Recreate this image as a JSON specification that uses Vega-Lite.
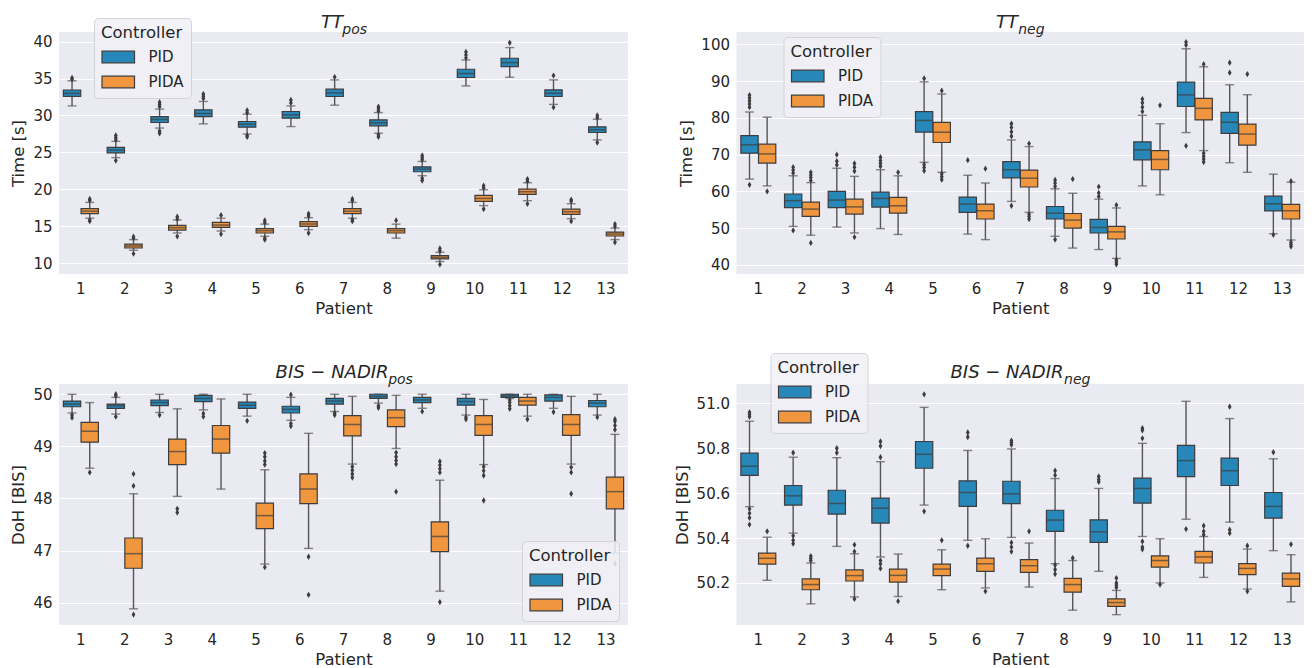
{
  "$schema": "https://vega.github.io/schema/vega-lite/v6.json",
  "background": "white",
  "padding": {"left": 10, "top": 14, "right": 5, "bottom": 2},
  "columns": 2,
  "spacing": {"row": 110, "column": 108.5},
  "bounds": "flush",
  "config": {
    "font": "DejaVu Sans",
    "view": {"fill": "#EAEAF2", "stroke": null},
    "axis": {"labelFont": "DejaVu Sans", "labelFontSize": 15, "labelColor": "#262626", "titleFont": "DejaVu Sans", "titleFontSize": 16.5, "titleFontWeight": "normal", "titleColor": "#262626", "ticks": false, "domain": false, "gridColor": "#FFFFFF", "gridWidth": 1.2},
    "axisX": {"grid": false, "labelAngle": 0, "labelPadding": 7.5, "titlePadding": 4},
    "axisY": {"labelPadding": 7, "titlePadding": 6},
    "legend": {"titleFont": "DejaVu Sans", "titleFontSize": 16.5, "titleFontWeight": "normal", "titleColor": "#262626", "labelFont": "DejaVu Sans", "labelFontSize": 15, "labelColor": "#262626", "symbolType": "M-1,-0.9H4V0.9H-1Z", "symbolSize": 169, "symbolStrokeColor": "#3d3d3d", "symbolStrokeWidth": 1.2, "labelOffset": 32.5, "padding": 7, "titlePadding": 8, "rowPadding": 8, "fillColor": "rgba(240,240,246,0.85)", "strokeColor": "#d3d3da", "cornerRadius": 4},
    "title": {"font": "DejaVu Sans", "fontSize": 18, "fontStyle": "italic", "fontWeight": "normal", "color": "#262626", "subtitleFont": "DejaVu Sans", "subtitleFontSize": 14, "subtitleFontStyle": "italic", "subtitleColor": "#262626", "subtitlePadding": -9, "anchor": "middle", "frame": "group"}
  },
  "resolve": {"scale": {"y": "independent", "x": "independent", "xOffset": "independent", "color": "independent"}, "legend": {"color": "independent"}},
  "datasets": {
    "boxes": [
      {"panel": "TT_pos", "Patient": 1, "Controller": "PID", "lo": 31.3, "q1": 32.6, "med": 33.0, "q3": 33.45, "hi": 34.7},
      {"panel": "TT_pos", "Patient": 1, "Controller": "PIDA", "lo": 16.1, "q1": 16.71, "med": 17.05, "q3": 17.39, "hi": 18.24},
      {"panel": "TT_pos", "Patient": 2, "Controller": "PID", "lo": 24.3, "q1": 24.95, "med": 25.32, "q3": 25.68, "hi": 26.5},
      {"panel": "TT_pos", "Patient": 2, "Controller": "PIDA", "lo": 11.76, "q1": 12.07, "med": 12.34, "q3": 12.6, "hi": 13.2},
      {"panel": "TT_pos", "Patient": 3, "Controller": "PID", "lo": 28.3, "q1": 29.05, "med": 29.46, "q3": 29.86, "hi": 30.86},
      {"panel": "TT_pos", "Patient": 3, "Controller": "PIDA", "lo": 14.1, "q1": 14.5, "med": 14.82, "q3": 15.14, "hi": 15.86},
      {"panel": "TT_pos", "Patient": 4, "Controller": "PID", "lo": 28.87, "q1": 29.86, "med": 30.27, "q3": 30.77, "hi": 31.9},
      {"panel": "TT_pos", "Patient": 4, "Controller": "PIDA", "lo": 14.37, "q1": 14.86, "med": 15.18, "q3": 15.54, "hi": 16.1},
      {"panel": "TT_pos", "Patient": 5, "Controller": "PID", "lo": 27.5, "q1": 28.42, "med": 28.83, "q3": 29.19, "hi": 30.18},
      {"panel": "TT_pos", "Patient": 5, "Controller": "PIDA", "lo": 13.65, "q1": 14.1, "med": 14.41, "q3": 14.68, "hi": 15.3},
      {"panel": "TT_pos", "Patient": 6, "Controller": "PID", "lo": 28.5, "q1": 29.64, "med": 30.09, "q3": 30.54, "hi": 31.3},
      {"panel": "TT_pos", "Patient": 6, "Controller": "PIDA", "lo": 14.55, "q1": 15.0, "med": 15.32, "q3": 15.63, "hi": 16.17},
      {"panel": "TT_pos", "Patient": 7, "Controller": "PID", "lo": 31.4, "q1": 32.57, "med": 33.06, "q3": 33.56, "hi": 34.82},
      {"panel": "TT_pos", "Patient": 7, "Controller": "PIDA", "lo": 16.1, "q1": 16.71, "med": 17.05, "q3": 17.39, "hi": 18.24},
      {"panel": "TT_pos", "Patient": 8, "Controller": "PID", "lo": 27.6, "q1": 28.6, "med": 29.0, "q3": 29.41, "hi": 30.4},
      {"panel": "TT_pos", "Patient": 8, "Controller": "PIDA", "lo": 13.4, "q1": 14.1, "med": 14.41, "q3": 14.68, "hi": 15.3},
      {"panel": "TT_pos", "Patient": 9, "Controller": "PID", "lo": 21.85, "q1": 22.39, "med": 22.75, "q3": 23.06, "hi": 23.78},
      {"panel": "TT_pos", "Patient": 9, "Controller": "PIDA", "lo": 10.23, "q1": 10.59, "med": 10.81, "q3": 11.04, "hi": 11.49},
      {"panel": "TT_pos", "Patient": 10, "Controller": "PID", "lo": 34.0, "q1": 35.14, "med": 35.68, "q3": 36.26, "hi": 37.52},
      {"panel": "TT_pos", "Patient": 10, "Controller": "PIDA", "lo": 17.8, "q1": 18.38, "med": 18.78, "q3": 19.19, "hi": 19.95},
      {"panel": "TT_pos", "Patient": 11, "Controller": "PID", "lo": 35.18, "q1": 36.62, "med": 37.16, "q3": 37.75, "hi": 39.19},
      {"panel": "TT_pos", "Patient": 11, "Controller": "PIDA", "lo": 18.47, "q1": 19.32, "med": 19.68, "q3": 20.04, "hi": 20.9},
      {"panel": "TT_pos", "Patient": 12, "Controller": "PID", "lo": 31.5, "q1": 32.57, "med": 33.0, "q3": 33.47, "hi": 34.82},
      {"panel": "TT_pos", "Patient": 12, "Controller": "PIDA", "lo": 16.04, "q1": 16.62, "med": 16.98, "q3": 17.34, "hi": 18.06},
      {"panel": "TT_pos", "Patient": 13, "Controller": "PID", "lo": 26.7, "q1": 27.7, "med": 28.06, "q3": 28.47, "hi": 29.5},
      {"panel": "TT_pos", "Patient": 13, "Controller": "PIDA", "lo": 13.2, "q1": 13.69, "med": 13.96, "q3": 14.23, "hi": 14.77},

      {"panel": "TT_neg", "Patient": 1, "Controller": "PID", "lo": 63.35, "q1": 70.4, "med": 72.67, "q3": 75.2, "hi": 81.6},
      {"panel": "TT_neg", "Patient": 1, "Controller": "PIDA", "lo": 61.5, "q1": 67.7, "med": 70.2, "q3": 72.85, "hi": 80.2},
      {"panel": "TT_neg", "Patient": 2, "Controller": "PID", "lo": 50.5, "q1": 55.6, "med": 57.5, "q3": 59.3, "hi": 64.25},
      {"panel": "TT_neg", "Patient": 2, "Controller": "PIDA", "lo": 48.1, "q1": 53.2, "med": 55.2, "q3": 57.1, "hi": 62.4},
      {"panel": "TT_neg", "Patient": 3, "Controller": "PID", "lo": 50.3, "q1": 55.6, "med": 57.65, "q3": 60.0, "hi": 66.3},
      {"panel": "TT_neg", "Patient": 3, "Controller": "PIDA", "lo": 48.7, "q1": 53.85, "med": 55.8, "q3": 57.9, "hi": 64.1},
      {"panel": "TT_neg", "Patient": 4, "Controller": "PID", "lo": 49.9, "q1": 55.75, "med": 58.1, "q3": 59.8, "hi": 65.9},
      {"panel": "TT_neg", "Patient": 4, "Controller": "PIDA", "lo": 48.3, "q1": 54.1, "med": 56.1, "q3": 58.4, "hi": 64.25},
      {"panel": "TT_neg", "Patient": 5, "Controller": "PID", "lo": 67.9, "q1": 76.1, "med": 79.3, "q3": 81.7, "hi": 89.8},
      {"panel": "TT_neg", "Patient": 5, "Controller": "PIDA", "lo": 65.2, "q1": 73.3, "med": 76.1, "q3": 78.8, "hi": 86.5},
      {"panel": "TT_neg", "Patient": 6, "Controller": "PID", "lo": 48.4, "q1": 54.3, "med": 56.56, "q3": 58.46, "hi": 64.4},
      {"panel": "TT_neg", "Patient": 6, "Controller": "PIDA", "lo": 46.9, "q1": 52.5, "med": 54.75, "q3": 56.56, "hi": 62.3},
      {"panel": "TT_neg", "Patient": 7, "Controller": "PID", "lo": 57.3, "q1": 63.7, "med": 65.9, "q3": 68.1, "hi": 74.0},
      {"panel": "TT_neg", "Patient": 7, "Controller": "PIDA", "lo": 54.3, "q1": 61.2, "med": 63.6, "q3": 65.8, "hi": 72.2},
      {"panel": "TT_neg", "Patient": 8, "Controller": "PID", "lo": 47.8, "q1": 52.5, "med": 54.1, "q3": 55.9, "hi": 60.7},
      {"panel": "TT_neg", "Patient": 8, "Controller": "PIDA", "lo": 44.6, "q1": 50.0, "med": 52.2, "q3": 54.0, "hi": 59.5},
      {"panel": "TT_neg", "Patient": 9, "Controller": "PID", "lo": 44.2, "q1": 48.7, "med": 50.2, "q3": 52.4, "hi": 57.9},
      {"panel": "TT_neg", "Patient": 9, "Controller": "PIDA", "lo": 41.8, "q1": 47.06, "med": 49.0, "q3": 50.5, "hi": 55.5},
      {"panel": "TT_neg", "Patient": 10, "Controller": "PID", "lo": 61.5, "q1": 68.6, "med": 71.3, "q3": 73.5, "hi": 80.7},
      {"panel": "TT_neg", "Patient": 10, "Controller": "PIDA", "lo": 59.1, "q1": 65.9, "med": 68.7, "q3": 71.1, "hi": 78.4},
      {"panel": "TT_neg", "Patient": 11, "Controller": "PID", "lo": 76.0, "q1": 83.1, "med": 86.25, "q3": 89.7, "hi": 98.8},
      {"panel": "TT_neg", "Patient": 11, "Controller": "PIDA", "lo": 71.1, "q1": 79.45, "med": 82.6, "q3": 85.3, "hi": 93.9},
      {"panel": "TT_neg", "Patient": 12, "Controller": "PID", "lo": 67.8, "q1": 75.8, "med": 78.8, "q3": 81.5, "hi": 89.0},
      {"panel": "TT_neg", "Patient": 12, "Controller": "PIDA", "lo": 65.2, "q1": 72.6, "med": 75.6, "q3": 78.3, "hi": 86.3},
      {"panel": "TT_neg", "Patient": 13, "Controller": "PID", "lo": 48.5, "q1": 54.7, "med": 56.65, "q3": 58.7, "hi": 64.7},
      {"panel": "TT_neg", "Patient": 13, "Controller": "PIDA", "lo": 46.8, "q1": 52.5, "med": 54.75, "q3": 56.5, "hi": 62.5},

      {"panel": "BIS_pos", "Patient": 1, "Controller": "PID", "lo": 49.64, "q1": 49.76, "med": 49.81, "q3": 49.87, "hi": 50.0},
      {"panel": "BIS_pos", "Patient": 1, "Controller": "PIDA", "lo": 48.58, "q1": 49.08, "med": 49.29, "q3": 49.46, "hi": 49.84},
      {"panel": "BIS_pos", "Patient": 2, "Controller": "PID", "lo": 49.62, "q1": 49.73, "med": 49.78, "q3": 49.81, "hi": 49.94},
      {"panel": "BIS_pos", "Patient": 2, "Controller": "PIDA", "lo": 45.88, "q1": 46.66, "med": 46.94, "q3": 47.24, "hi": 48.09},
      {"panel": "BIS_pos", "Patient": 3, "Controller": "PID", "lo": 49.65, "q1": 49.78, "med": 49.84, "q3": 49.89, "hi": 50.0},
      {"panel": "BIS_pos", "Patient": 3, "Controller": "PIDA", "lo": 48.04, "q1": 48.65, "med": 48.9, "q3": 49.14, "hi": 49.72},
      {"panel": "BIS_pos", "Patient": 4, "Controller": "PID", "lo": 49.7, "q1": 49.86, "med": 49.92, "q3": 49.98, "hi": 50.0},
      {"panel": "BIS_pos", "Patient": 4, "Controller": "PIDA", "lo": 48.18, "q1": 48.87, "med": 49.14, "q3": 49.4, "hi": 49.91},
      {"panel": "BIS_pos", "Patient": 5, "Controller": "PID", "lo": 49.58, "q1": 49.73, "med": 49.79, "q3": 49.85, "hi": 50.0},
      {"panel": "BIS_pos", "Patient": 5, "Controller": "PIDA", "lo": 46.74, "q1": 47.42, "med": 47.67, "q3": 47.91, "hi": 48.55},
      {"panel": "BIS_pos", "Patient": 6, "Controller": "PID", "lo": 49.5, "q1": 49.64, "med": 49.71, "q3": 49.77, "hi": 49.94},
      {"panel": "BIS_pos", "Patient": 6, "Controller": "PIDA", "lo": 47.04, "q1": 47.9, "med": 48.18, "q3": 48.47, "hi": 49.25},
      {"panel": "BIS_pos", "Patient": 7, "Controller": "PID", "lo": 49.67, "q1": 49.81, "med": 49.87, "q3": 49.92, "hi": 50.0},
      {"panel": "BIS_pos", "Patient": 7, "Controller": "PIDA", "lo": 48.66, "q1": 49.2, "med": 49.42, "q3": 49.59, "hi": 49.96},
      {"panel": "BIS_pos", "Patient": 8, "Controller": "PID", "lo": 49.83, "q1": 49.92, "med": 49.96, "q3": 50.0, "hi": 50.0},
      {"panel": "BIS_pos", "Patient": 8, "Controller": "PIDA", "lo": 48.96, "q1": 49.38, "med": 49.55, "q3": 49.7, "hi": 49.98},
      {"panel": "BIS_pos", "Patient": 9, "Controller": "PID", "lo": 49.73, "q1": 49.84, "med": 49.89, "q3": 49.94, "hi": 50.0},
      {"panel": "BIS_pos", "Patient": 9, "Controller": "PIDA", "lo": 46.22, "q1": 46.98, "med": 47.27, "q3": 47.55, "hi": 48.35},
      {"panel": "BIS_pos", "Patient": 10, "Controller": "PID", "lo": 49.6, "q1": 49.79, "med": 49.86, "q3": 49.92, "hi": 50.0},
      {"panel": "BIS_pos", "Patient": 10, "Controller": "PIDA", "lo": 48.65, "q1": 49.21, "med": 49.42, "q3": 49.59, "hi": 49.9},
      {"panel": "BIS_pos", "Patient": 11, "Controller": "PID", "lo": 49.92, "q1": 49.94, "med": 49.97, "q3": 50.0, "hi": 50.0},
      {"panel": "BIS_pos", "Patient": 11, "Controller": "PIDA", "lo": 49.58, "q1": 49.79, "med": 49.87, "q3": 49.94, "hi": 50.0},
      {"panel": "BIS_pos", "Patient": 12, "Controller": "PID", "lo": 49.73, "q1": 49.87, "med": 49.94, "q3": 49.99, "hi": 50.0},
      {"panel": "BIS_pos", "Patient": 12, "Controller": "PIDA", "lo": 48.66, "q1": 49.21, "med": 49.42, "q3": 49.61, "hi": 49.96},
      {"panel": "BIS_pos", "Patient": 13, "Controller": "PID", "lo": 49.6, "q1": 49.76, "med": 49.83, "q3": 49.88, "hi": 50.0},
      {"panel": "BIS_pos", "Patient": 13, "Controller": "PIDA", "lo": 46.95, "q1": 47.8, "med": 48.13, "q3": 48.41, "hi": 49.23},

      {"panel": "BIS_neg", "Patient": 1, "Controller": "PID", "lo": 50.54, "q1": 50.679, "med": 50.72, "q3": 50.778, "hi": 50.92},
      {"panel": "BIS_neg", "Patient": 1, "Controller": "PIDA", "lo": 50.212, "q1": 50.284, "med": 50.31, "q3": 50.333, "hi": 50.404},
      {"panel": "BIS_neg", "Patient": 2, "Controller": "PID", "lo": 50.422, "q1": 50.547, "med": 50.588, "q3": 50.634, "hi": 50.76},
      {"panel": "BIS_neg", "Patient": 2, "Controller": "PIDA", "lo": 50.107, "q1": 50.17, "med": 50.193, "q3": 50.218, "hi": 50.289},
      {"panel": "BIS_neg", "Patient": 3, "Controller": "PID", "lo": 50.363, "q1": 50.507, "med": 50.554, "q3": 50.613, "hi": 50.758},
      {"panel": "BIS_neg", "Patient": 3, "Controller": "PIDA", "lo": 50.138, "q1": 50.209, "med": 50.233, "q3": 50.258, "hi": 50.33},
      {"panel": "BIS_neg", "Patient": 4, "Controller": "PID", "lo": 50.316, "q1": 50.467, "med": 50.533, "q3": 50.578, "hi": 50.74},
      {"panel": "BIS_neg", "Patient": 4, "Controller": "PIDA", "lo": 50.14, "q1": 50.204, "med": 50.234, "q3": 50.262, "hi": 50.329},
      {"panel": "BIS_neg", "Patient": 5, "Controller": "PID", "lo": 50.547, "q1": 50.711, "med": 50.773, "q3": 50.83, "hi": 50.982},
      {"panel": "BIS_neg", "Patient": 5, "Controller": "PIDA", "lo": 50.17, "q1": 50.233, "med": 50.262, "q3": 50.284, "hi": 50.348},
      {"panel": "BIS_neg", "Patient": 6, "Controller": "PID", "lo": 50.39, "q1": 50.541, "med": 50.603, "q3": 50.655, "hi": 50.79},
      {"panel": "BIS_neg", "Patient": 6, "Controller": "PIDA", "lo": 50.178, "q1": 50.252, "med": 50.286, "q3": 50.311, "hi": 50.397},
      {"panel": "BIS_neg", "Patient": 7, "Controller": "PID", "lo": 50.403, "q1": 50.553, "med": 50.597, "q3": 50.653, "hi": 50.797},
      {"panel": "BIS_neg", "Patient": 7, "Controller": "PIDA", "lo": 50.182, "q1": 50.247, "med": 50.277, "q3": 50.304, "hi": 50.378},
      {"panel": "BIS_neg", "Patient": 8, "Controller": "PID", "lo": 50.286, "q1": 50.43, "med": 50.48, "q3": 50.524, "hi": 50.665},
      {"panel": "BIS_neg", "Patient": 8, "Controller": "PIDA", "lo": 50.079, "q1": 50.159, "med": 50.193, "q3": 50.221, "hi": 50.3},
      {"panel": "BIS_neg", "Patient": 9, "Controller": "PID", "lo": 50.252, "q1": 50.381, "med": 50.428, "q3": 50.481, "hi": 50.621},
      {"panel": "BIS_neg", "Patient": 9, "Controller": "PIDA", "lo": 50.059, "q1": 50.096, "med": 50.113, "q3": 50.129, "hi": 50.167},
      {"panel": "BIS_neg", "Patient": 10, "Controller": "PID", "lo": 50.407, "q1": 50.556, "med": 50.621, "q3": 50.667, "hi": 50.822},
      {"panel": "BIS_neg", "Patient": 10, "Controller": "PIDA", "lo": 50.2, "q1": 50.271, "med": 50.3, "q3": 50.321, "hi": 50.397},
      {"panel": "BIS_neg", "Patient": 11, "Controller": "PID", "lo": 50.484, "q1": 50.674, "med": 50.745, "q3": 50.813, "hi": 51.009},
      {"panel": "BIS_neg", "Patient": 11, "Controller": "PIDA", "lo": 50.225, "q1": 50.289, "med": 50.316, "q3": 50.341, "hi": 50.407},
      {"panel": "BIS_neg", "Patient": 12, "Controller": "PID", "lo": 50.471, "q1": 50.634, "med": 50.7, "q3": 50.756, "hi": 50.932},
      {"panel": "BIS_neg", "Patient": 12, "Controller": "PIDA", "lo": 50.173, "q1": 50.237, "med": 50.265, "q3": 50.286, "hi": 50.351},
      {"panel": "BIS_neg", "Patient": 13, "Controller": "PID", "lo": 50.344, "q1": 50.489, "med": 50.541, "q3": 50.603, "hi": 50.753},
      {"panel": "BIS_neg", "Patient": 13, "Controller": "PIDA", "lo": 50.116, "q1": 50.185, "med": 50.218, "q3": 50.244, "hi": 50.326}
    ],
    "outliers": [
      {"panel": "TT_pos", "Patient": 1, "Controller": "PID", "value": 34.9}, {"panel": "TT_pos", "Patient": 1, "Controller": "PID", "value": 35.1},
      {"panel": "TT_pos", "Patient": 1, "Controller": "PIDA", "value": 18.5}, {"panel": "TT_pos", "Patient": 1, "Controller": "PIDA", "value": 18.7}, {"panel": "TT_pos", "Patient": 1, "Controller": "PIDA", "value": 15.7}, {"panel": "TT_pos", "Patient": 1, "Controller": "PIDA", "value": 15.85},
      {"panel": "TT_pos", "Patient": 2, "Controller": "PID", "value": 26.7}, {"panel": "TT_pos", "Patient": 2, "Controller": "PID", "value": 27.0}, {"panel": "TT_pos", "Patient": 2, "Controller": "PID", "value": 27.3}, {"panel": "TT_pos", "Patient": 2, "Controller": "PID", "value": 23.9},
      {"panel": "TT_pos", "Patient": 2, "Controller": "PIDA", "value": 13.4}, {"panel": "TT_pos", "Patient": 2, "Controller": "PIDA", "value": 13.6}, {"panel": "TT_pos", "Patient": 2, "Controller": "PIDA", "value": 11.3},
      {"panel": "TT_pos", "Patient": 3, "Controller": "PID", "value": 31.2}, {"panel": "TT_pos", "Patient": 3, "Controller": "PID", "value": 31.5}, {"panel": "TT_pos", "Patient": 3, "Controller": "PID", "value": 31.8}, {"panel": "TT_pos", "Patient": 3, "Controller": "PID", "value": 27.6}, {"panel": "TT_pos", "Patient": 3, "Controller": "PID", "value": 27.9},
      {"panel": "TT_pos", "Patient": 3, "Controller": "PIDA", "value": 16.0}, {"panel": "TT_pos", "Patient": 3, "Controller": "PIDA", "value": 16.3}, {"panel": "TT_pos", "Patient": 3, "Controller": "PIDA", "value": 13.65},
      {"panel": "TT_pos", "Patient": 4, "Controller": "PID", "value": 32.3}, {"panel": "TT_pos", "Patient": 4, "Controller": "PID", "value": 32.6}, {"panel": "TT_pos", "Patient": 4, "Controller": "PID", "value": 32.9},
      {"panel": "TT_pos", "Patient": 4, "Controller": "PIDA", "value": 16.5}, {"panel": "TT_pos", "Patient": 4, "Controller": "PIDA", "value": 13.95},
      {"panel": "TT_pos", "Patient": 5, "Controller": "PID", "value": 30.4}, {"panel": "TT_pos", "Patient": 5, "Controller": "PID", "value": 30.7}, {"panel": "TT_pos", "Patient": 5, "Controller": "PID", "value": 27.1}, {"panel": "TT_pos", "Patient": 5, "Controller": "PID", "value": 27.3},
      {"panel": "TT_pos", "Patient": 5, "Controller": "PIDA", "value": 15.5}, {"panel": "TT_pos", "Patient": 5, "Controller": "PIDA", "value": 15.8}, {"panel": "TT_pos", "Patient": 5, "Controller": "PIDA", "value": 13.2}, {"panel": "TT_pos", "Patient": 5, "Controller": "PIDA", "value": 13.4},
      {"panel": "TT_pos", "Patient": 6, "Controller": "PID", "value": 31.7}, {"panel": "TT_pos", "Patient": 6, "Controller": "PID", "value": 32.1},
      {"panel": "TT_pos", "Patient": 6, "Controller": "PIDA", "value": 16.4}, {"panel": "TT_pos", "Patient": 6, "Controller": "PIDA", "value": 16.7}, {"panel": "TT_pos", "Patient": 6, "Controller": "PIDA", "value": 14.1},
      {"panel": "TT_pos", "Patient": 7, "Controller": "PID", "value": 35.2},
      {"panel": "TT_pos", "Patient": 7, "Controller": "PIDA", "value": 18.5}, {"panel": "TT_pos", "Patient": 7, "Controller": "PIDA", "value": 18.7}, {"panel": "TT_pos", "Patient": 7, "Controller": "PIDA", "value": 15.7}, {"panel": "TT_pos", "Patient": 7, "Controller": "PIDA", "value": 15.9},
      {"panel": "TT_pos", "Patient": 8, "Controller": "PID", "value": 30.6}, {"panel": "TT_pos", "Patient": 8, "Controller": "PID", "value": 30.9}, {"panel": "TT_pos", "Patient": 8, "Controller": "PID", "value": 31.2}, {"panel": "TT_pos", "Patient": 8, "Controller": "PID", "value": 27.1}, {"panel": "TT_pos", "Patient": 8, "Controller": "PID", "value": 27.4},
      {"panel": "TT_pos", "Patient": 8, "Controller": "PIDA", "value": 15.8},
      {"panel": "TT_pos", "Patient": 9, "Controller": "PID", "value": 24.0}, {"panel": "TT_pos", "Patient": 9, "Controller": "PID", "value": 24.3}, {"panel": "TT_pos", "Patient": 9, "Controller": "PID", "value": 24.6}, {"panel": "TT_pos", "Patient": 9, "Controller": "PID", "value": 21.2}, {"panel": "TT_pos", "Patient": 9, "Controller": "PID", "value": 21.5},
      {"panel": "TT_pos", "Patient": 9, "Controller": "PIDA", "value": 11.7}, {"panel": "TT_pos", "Patient": 9, "Controller": "PIDA", "value": 12.0}, {"panel": "TT_pos", "Patient": 9, "Controller": "PIDA", "value": 9.85},
      {"panel": "TT_pos", "Patient": 10, "Controller": "PID", "value": 37.8}, {"panel": "TT_pos", "Patient": 10, "Controller": "PID", "value": 38.2}, {"panel": "TT_pos", "Patient": 10, "Controller": "PID", "value": 38.6},
      {"panel": "TT_pos", "Patient": 10, "Controller": "PIDA", "value": 20.2}, {"panel": "TT_pos", "Patient": 10, "Controller": "PIDA", "value": 20.5}, {"panel": "TT_pos", "Patient": 10, "Controller": "PIDA", "value": 17.35},
      {"panel": "TT_pos", "Patient": 11, "Controller": "PID", "value": 39.85},
      {"panel": "TT_pos", "Patient": 11, "Controller": "PIDA", "value": 21.1}, {"panel": "TT_pos", "Patient": 11, "Controller": "PIDA", "value": 21.4}, {"panel": "TT_pos", "Patient": 11, "Controller": "PIDA", "value": 18.05},
      {"panel": "TT_pos", "Patient": 12, "Controller": "PID", "value": 35.4}, {"panel": "TT_pos", "Patient": 12, "Controller": "PID", "value": 31.1},
      {"panel": "TT_pos", "Patient": 12, "Controller": "PIDA", "value": 18.4}, {"panel": "TT_pos", "Patient": 12, "Controller": "PIDA", "value": 18.6}, {"panel": "TT_pos", "Patient": 12, "Controller": "PIDA", "value": 15.7},
      {"panel": "TT_pos", "Patient": 13, "Controller": "PID", "value": 29.7}, {"panel": "TT_pos", "Patient": 13, "Controller": "PID", "value": 30.0}, {"panel": "TT_pos", "Patient": 13, "Controller": "PID", "value": 26.35},
      {"panel": "TT_pos", "Patient": 13, "Controller": "PIDA", "value": 15.0}, {"panel": "TT_pos", "Patient": 13, "Controller": "PIDA", "value": 15.3}, {"panel": "TT_pos", "Patient": 13, "Controller": "PIDA", "value": 12.85},

      {"panel": "TT_neg", "Patient": 1, "Controller": "PID", "value": 82.9}, {"panel": "TT_neg", "Patient": 1, "Controller": "PID", "value": 83.8}, {"panel": "TT_neg", "Patient": 1, "Controller": "PID", "value": 84.6}, {"panel": "TT_neg", "Patient": 1, "Controller": "PID", "value": 85.4}, {"panel": "TT_neg", "Patient": 1, "Controller": "PID", "value": 86.2}, {"panel": "TT_neg", "Patient": 1, "Controller": "PID", "value": 61.8},
      {"panel": "TT_neg", "Patient": 1, "Controller": "PIDA", "value": 60.0},
      {"panel": "TT_neg", "Patient": 2, "Controller": "PID", "value": 65.0}, {"panel": "TT_neg", "Patient": 2, "Controller": "PID", "value": 65.8}, {"panel": "TT_neg", "Patient": 2, "Controller": "PID", "value": 66.6}, {"panel": "TT_neg", "Patient": 2, "Controller": "PID", "value": 49.4},
      {"panel": "TT_neg", "Patient": 2, "Controller": "PIDA", "value": 63.0}, {"panel": "TT_neg", "Patient": 2, "Controller": "PIDA", "value": 63.8}, {"panel": "TT_neg", "Patient": 2, "Controller": "PIDA", "value": 64.5}, {"panel": "TT_neg", "Patient": 2, "Controller": "PIDA", "value": 65.2}, {"panel": "TT_neg", "Patient": 2, "Controller": "PIDA", "value": 46.0},
      {"panel": "TT_neg", "Patient": 3, "Controller": "PID", "value": 67.2}, {"panel": "TT_neg", "Patient": 3, "Controller": "PID", "value": 68.2}, {"panel": "TT_neg", "Patient": 3, "Controller": "PID", "value": 70.0},
      {"panel": "TT_neg", "Patient": 3, "Controller": "PIDA", "value": 65.5}, {"panel": "TT_neg", "Patient": 3, "Controller": "PIDA", "value": 66.6}, {"panel": "TT_neg", "Patient": 3, "Controller": "PIDA", "value": 67.6}, {"panel": "TT_neg", "Patient": 3, "Controller": "PIDA", "value": 47.6},
      {"panel": "TT_neg", "Patient": 4, "Controller": "PID", "value": 66.8}, {"panel": "TT_neg", "Patient": 4, "Controller": "PID", "value": 67.6}, {"panel": "TT_neg", "Patient": 4, "Controller": "PID", "value": 68.4}, {"panel": "TT_neg", "Patient": 4, "Controller": "PID", "value": 69.3},
      {"panel": "TT_neg", "Patient": 4, "Controller": "PIDA", "value": 65.2},
      {"panel": "TT_neg", "Patient": 5, "Controller": "PID", "value": 90.7}, {"panel": "TT_neg", "Patient": 5, "Controller": "PID", "value": 65.6}, {"panel": "TT_neg", "Patient": 5, "Controller": "PID", "value": 66.5}, {"panel": "TT_neg", "Patient": 5, "Controller": "PID", "value": 67.3},
      {"panel": "TT_neg", "Patient": 5, "Controller": "PIDA", "value": 87.4}, {"panel": "TT_neg", "Patient": 5, "Controller": "PIDA", "value": 63.2}, {"panel": "TT_neg", "Patient": 5, "Controller": "PIDA", "value": 64.0}, {"panel": "TT_neg", "Patient": 5, "Controller": "PIDA", "value": 64.8},
      {"panel": "TT_neg", "Patient": 6, "Controller": "PID", "value": 68.5},
      {"panel": "TT_neg", "Patient": 6, "Controller": "PIDA", "value": 66.2},
      {"panel": "TT_neg", "Patient": 7, "Controller": "PID", "value": 75.0}, {"panel": "TT_neg", "Patient": 7, "Controller": "PID", "value": 76.2}, {"panel": "TT_neg", "Patient": 7, "Controller": "PID", "value": 77.4}, {"panel": "TT_neg", "Patient": 7, "Controller": "PID", "value": 78.4}, {"panel": "TT_neg", "Patient": 7, "Controller": "PID", "value": 56.1},
      {"panel": "TT_neg", "Patient": 7, "Controller": "PIDA", "value": 73.0}, {"panel": "TT_neg", "Patient": 7, "Controller": "PIDA", "value": 52.5}, {"panel": "TT_neg", "Patient": 7, "Controller": "PIDA", "value": 53.2}, {"panel": "TT_neg", "Patient": 7, "Controller": "PIDA", "value": 53.8},
      {"panel": "TT_neg", "Patient": 8, "Controller": "PID", "value": 61.4}, {"panel": "TT_neg", "Patient": 8, "Controller": "PID", "value": 62.3}, {"panel": "TT_neg", "Patient": 8, "Controller": "PID", "value": 63.1}, {"panel": "TT_neg", "Patient": 8, "Controller": "PID", "value": 46.9},
      {"panel": "TT_neg", "Patient": 8, "Controller": "PIDA", "value": 63.35},
      {"panel": "TT_neg", "Patient": 9, "Controller": "PID", "value": 58.6}, {"panel": "TT_neg", "Patient": 9, "Controller": "PID", "value": 59.6}, {"panel": "TT_neg", "Patient": 9, "Controller": "PID", "value": 61.3},
      {"panel": "TT_neg", "Patient": 9, "Controller": "PIDA", "value": 56.3}, {"panel": "TT_neg", "Patient": 9, "Controller": "PIDA", "value": 40.2}, {"panel": "TT_neg", "Patient": 9, "Controller": "PIDA", "value": 40.8}, {"panel": "TT_neg", "Patient": 9, "Controller": "PIDA", "value": 41.4},
      {"panel": "TT_neg", "Patient": 10, "Controller": "PID", "value": 81.7}, {"panel": "TT_neg", "Patient": 10, "Controller": "PID", "value": 82.9}, {"panel": "TT_neg", "Patient": 10, "Controller": "PID", "value": 84.1}, {"panel": "TT_neg", "Patient": 10, "Controller": "PID", "value": 85.1},
      {"panel": "TT_neg", "Patient": 10, "Controller": "PIDA", "value": 83.4},
      {"panel": "TT_neg", "Patient": 11, "Controller": "PID", "value": 99.8}, {"panel": "TT_neg", "Patient": 11, "Controller": "PID", "value": 100.6}, {"panel": "TT_neg", "Patient": 11, "Controller": "PID", "value": 72.4},
      {"panel": "TT_neg", "Patient": 11, "Controller": "PIDA", "value": 94.6}, {"panel": "TT_neg", "Patient": 11, "Controller": "PIDA", "value": 68.0}, {"panel": "TT_neg", "Patient": 11, "Controller": "PIDA", "value": 68.8}, {"panel": "TT_neg", "Patient": 11, "Controller": "PIDA", "value": 69.6}, {"panel": "TT_neg", "Patient": 11, "Controller": "PIDA", "value": 70.4},
      {"panel": "TT_neg", "Patient": 12, "Controller": "PID", "value": 92.3}, {"panel": "TT_neg", "Patient": 12, "Controller": "PID", "value": 95.0},
      {"panel": "TT_neg", "Patient": 12, "Controller": "PIDA", "value": 91.9},
      {"panel": "TT_neg", "Patient": 13, "Controller": "PID", "value": 48.2},
      {"panel": "TT_neg", "Patient": 13, "Controller": "PIDA", "value": 62.8}, {"panel": "TT_neg", "Patient": 13, "Controller": "PIDA", "value": 45.0}, {"panel": "TT_neg", "Patient": 13, "Controller": "PIDA", "value": 45.6}, {"panel": "TT_neg", "Patient": 13, "Controller": "PIDA", "value": 46.2},

      {"panel": "BIS_pos", "Patient": 1, "Controller": "PID", "value": 49.55}, {"panel": "BIS_pos", "Patient": 1, "Controller": "PID", "value": 49.6},
      {"panel": "BIS_pos", "Patient": 1, "Controller": "PIDA", "value": 48.5},
      {"panel": "BIS_pos", "Patient": 2, "Controller": "PID", "value": 49.97}, {"panel": "BIS_pos", "Patient": 2, "Controller": "PID", "value": 50.0}, {"panel": "BIS_pos", "Patient": 2, "Controller": "PID", "value": 49.57},
      {"panel": "BIS_pos", "Patient": 2, "Controller": "PIDA", "value": 48.24}, {"panel": "BIS_pos", "Patient": 2, "Controller": "PIDA", "value": 48.47}, {"panel": "BIS_pos", "Patient": 2, "Controller": "PIDA", "value": 45.77},
      {"panel": "BIS_pos", "Patient": 3, "Controller": "PID", "value": 49.6},
      {"panel": "BIS_pos", "Patient": 3, "Controller": "PIDA", "value": 47.73}, {"panel": "BIS_pos", "Patient": 3, "Controller": "PIDA", "value": 47.8},
      {"panel": "BIS_pos", "Patient": 4, "Controller": "PID", "value": 49.57}, {"panel": "BIS_pos", "Patient": 4, "Controller": "PID", "value": 49.63},
      {"panel": "BIS_pos", "Patient": 5, "Controller": "PID", "value": 49.49},
      {"panel": "BIS_pos", "Patient": 5, "Controller": "PIDA", "value": 48.65}, {"panel": "BIS_pos", "Patient": 5, "Controller": "PIDA", "value": 48.72}, {"panel": "BIS_pos", "Patient": 5, "Controller": "PIDA", "value": 48.8}, {"panel": "BIS_pos", "Patient": 5, "Controller": "PIDA", "value": 48.87}, {"panel": "BIS_pos", "Patient": 5, "Controller": "PIDA", "value": 46.68},
      {"panel": "BIS_pos", "Patient": 6, "Controller": "PID", "value": 49.99}, {"panel": "BIS_pos", "Patient": 6, "Controller": "PID", "value": 49.39}, {"panel": "BIS_pos", "Patient": 6, "Controller": "PID", "value": 49.44},
      {"panel": "BIS_pos", "Patient": 6, "Controller": "PIDA", "value": 46.88}, {"panel": "BIS_pos", "Patient": 6, "Controller": "PIDA", "value": 46.15},
      {"panel": "BIS_pos", "Patient": 7, "Controller": "PID", "value": 49.6}, {"panel": "BIS_pos", "Patient": 7, "Controller": "PID", "value": 49.64},
      {"panel": "BIS_pos", "Patient": 7, "Controller": "PIDA", "value": 48.4}, {"panel": "BIS_pos", "Patient": 7, "Controller": "PIDA", "value": 48.47}, {"panel": "BIS_pos", "Patient": 7, "Controller": "PIDA", "value": 48.54}, {"panel": "BIS_pos", "Patient": 7, "Controller": "PIDA", "value": 48.61},
      {"panel": "BIS_pos", "Patient": 8, "Controller": "PID", "value": 49.74}, {"panel": "BIS_pos", "Patient": 8, "Controller": "PID", "value": 49.78},
      {"panel": "BIS_pos", "Patient": 8, "Controller": "PIDA", "value": 48.66}, {"panel": "BIS_pos", "Patient": 8, "Controller": "PIDA", "value": 48.73}, {"panel": "BIS_pos", "Patient": 8, "Controller": "PIDA", "value": 48.8}, {"panel": "BIS_pos", "Patient": 8, "Controller": "PIDA", "value": 48.88}, {"panel": "BIS_pos", "Patient": 8, "Controller": "PIDA", "value": 48.13},
      {"panel": "BIS_pos", "Patient": 9, "Controller": "PID", "value": 49.67},
      {"panel": "BIS_pos", "Patient": 9, "Controller": "PIDA", "value": 48.5}, {"panel": "BIS_pos", "Patient": 9, "Controller": "PIDA", "value": 48.57}, {"panel": "BIS_pos", "Patient": 9, "Controller": "PIDA", "value": 48.64}, {"panel": "BIS_pos", "Patient": 9, "Controller": "PIDA", "value": 48.71}, {"panel": "BIS_pos", "Patient": 9, "Controller": "PIDA", "value": 46.01},
      {"panel": "BIS_pos", "Patient": 10, "Controller": "PID", "value": 49.52}, {"panel": "BIS_pos", "Patient": 10, "Controller": "PID", "value": 49.56},
      {"panel": "BIS_pos", "Patient": 10, "Controller": "PIDA", "value": 48.44}, {"panel": "BIS_pos", "Patient": 10, "Controller": "PIDA", "value": 48.53}, {"panel": "BIS_pos", "Patient": 10, "Controller": "PIDA", "value": 48.61}, {"panel": "BIS_pos", "Patient": 10, "Controller": "PIDA", "value": 47.96},
      {"panel": "BIS_pos", "Patient": 11, "Controller": "PID", "value": 49.72}, {"panel": "BIS_pos", "Patient": 11, "Controller": "PID", "value": 49.78}, {"panel": "BIS_pos", "Patient": 11, "Controller": "PID", "value": 49.84}, {"panel": "BIS_pos", "Patient": 11, "Controller": "PID", "value": 49.89},
      {"panel": "BIS_pos", "Patient": 11, "Controller": "PIDA", "value": 49.52},
      {"panel": "BIS_pos", "Patient": 12, "Controller": "PID", "value": 49.66},
      {"panel": "BIS_pos", "Patient": 12, "Controller": "PIDA", "value": 48.5}, {"panel": "BIS_pos", "Patient": 12, "Controller": "PIDA", "value": 48.6}, {"panel": "BIS_pos", "Patient": 12, "Controller": "PIDA", "value": 48.09},
      {"panel": "BIS_pos", "Patient": 13, "Controller": "PID", "value": 49.56},
      {"panel": "BIS_pos", "Patient": 13, "Controller": "PIDA", "value": 49.32}, {"panel": "BIS_pos", "Patient": 13, "Controller": "PIDA", "value": 49.4}, {"panel": "BIS_pos", "Patient": 13, "Controller": "PIDA", "value": 49.48}, {"panel": "BIS_pos", "Patient": 13, "Controller": "PIDA", "value": 49.52}, {"panel": "BIS_pos", "Patient": 13, "Controller": "PIDA", "value": 46.75},

      {"panel": "BIS_neg", "Patient": 1, "Controller": "PID", "value": 50.94}, {"panel": "BIS_neg", "Patient": 1, "Controller": "PID", "value": 50.95}, {"panel": "BIS_neg", "Patient": 1, "Controller": "PID", "value": 50.96}, {"panel": "BIS_neg", "Patient": 1, "Controller": "PID", "value": 50.53}, {"panel": "BIS_neg", "Patient": 1, "Controller": "PID", "value": 50.51}, {"panel": "BIS_neg", "Patient": 1, "Controller": "PID", "value": 50.49}, {"panel": "BIS_neg", "Patient": 1, "Controller": "PID", "value": 50.46},
      {"panel": "BIS_neg", "Patient": 1, "Controller": "PIDA", "value": 50.43},
      {"panel": "BIS_neg", "Patient": 2, "Controller": "PID", "value": 50.78}, {"panel": "BIS_neg", "Patient": 2, "Controller": "PID", "value": 50.41}, {"panel": "BIS_neg", "Patient": 2, "Controller": "PID", "value": 50.39}, {"panel": "BIS_neg", "Patient": 2, "Controller": "PID", "value": 50.375},
      {"panel": "BIS_neg", "Patient": 2, "Controller": "PIDA", "value": 50.3}, {"panel": "BIS_neg", "Patient": 2, "Controller": "PIDA", "value": 50.31}, {"panel": "BIS_neg", "Patient": 2, "Controller": "PIDA", "value": 50.32},
      {"panel": "BIS_neg", "Patient": 3, "Controller": "PID", "value": 50.78}, {"panel": "BIS_neg", "Patient": 3, "Controller": "PID", "value": 50.8},
      {"panel": "BIS_neg", "Patient": 3, "Controller": "PIDA", "value": 50.34}, {"panel": "BIS_neg", "Patient": 3, "Controller": "PIDA", "value": 50.37}, {"panel": "BIS_neg", "Patient": 3, "Controller": "PIDA", "value": 50.129},
      {"panel": "BIS_neg", "Patient": 4, "Controller": "PID", "value": 50.76}, {"panel": "BIS_neg", "Patient": 4, "Controller": "PID", "value": 50.81}, {"panel": "BIS_neg", "Patient": 4, "Controller": "PID", "value": 50.83}, {"panel": "BIS_neg", "Patient": 4, "Controller": "PID", "value": 50.3}, {"panel": "BIS_neg", "Patient": 4, "Controller": "PID", "value": 50.285}, {"panel": "BIS_neg", "Patient": 4, "Controller": "PID", "value": 50.265},
      {"panel": "BIS_neg", "Patient": 4, "Controller": "PIDA", "value": 50.119},
      {"panel": "BIS_neg", "Patient": 5, "Controller": "PID", "value": 51.04}, {"panel": "BIS_neg", "Patient": 5, "Controller": "PID", "value": 50.519},
      {"panel": "BIS_neg", "Patient": 5, "Controller": "PIDA", "value": 50.39},
      {"panel": "BIS_neg", "Patient": 6, "Controller": "PID", "value": 50.85}, {"panel": "BIS_neg", "Patient": 6, "Controller": "PID", "value": 50.87}, {"panel": "BIS_neg", "Patient": 6, "Controller": "PID", "value": 50.366},
      {"panel": "BIS_neg", "Patient": 6, "Controller": "PIDA", "value": 50.163},
      {"panel": "BIS_neg", "Patient": 7, "Controller": "PID", "value": 50.815}, {"panel": "BIS_neg", "Patient": 7, "Controller": "PID", "value": 50.825}, {"panel": "BIS_neg", "Patient": 7, "Controller": "PID", "value": 50.834}, {"panel": "BIS_neg", "Patient": 7, "Controller": "PID", "value": 50.38}, {"panel": "BIS_neg", "Patient": 7, "Controller": "PID", "value": 50.36}, {"panel": "BIS_neg", "Patient": 7, "Controller": "PID", "value": 50.34},
      {"panel": "BIS_neg", "Patient": 7, "Controller": "PIDA", "value": 50.43},
      {"panel": "BIS_neg", "Patient": 8, "Controller": "PID", "value": 50.68}, {"panel": "BIS_neg", "Patient": 8, "Controller": "PID", "value": 50.7}, {"panel": "BIS_neg", "Patient": 8, "Controller": "PID", "value": 50.28}, {"panel": "BIS_neg", "Patient": 8, "Controller": "PID", "value": 50.26}, {"panel": "BIS_neg", "Patient": 8, "Controller": "PID", "value": 50.24},
      {"panel": "BIS_neg", "Patient": 8, "Controller": "PIDA", "value": 50.311},
      {"panel": "BIS_neg", "Patient": 9, "Controller": "PID", "value": 50.65}, {"panel": "BIS_neg", "Patient": 9, "Controller": "PID", "value": 50.66}, {"panel": "BIS_neg", "Patient": 9, "Controller": "PID", "value": 50.674},
      {"panel": "BIS_neg", "Patient": 9, "Controller": "PIDA", "value": 50.18}, {"panel": "BIS_neg", "Patient": 9, "Controller": "PIDA", "value": 50.19}, {"panel": "BIS_neg", "Patient": 9, "Controller": "PIDA", "value": 50.2}, {"panel": "BIS_neg", "Patient": 9, "Controller": "PIDA", "value": 50.222},
      {"panel": "BIS_neg", "Patient": 10, "Controller": "PID", "value": 50.844}, {"panel": "BIS_neg", "Patient": 10, "Controller": "PID", "value": 50.88}, {"panel": "BIS_neg", "Patient": 10, "Controller": "PID", "value": 50.889}, {"panel": "BIS_neg", "Patient": 10, "Controller": "PID", "value": 50.385}, {"panel": "BIS_neg", "Patient": 10, "Controller": "PID", "value": 50.36}, {"panel": "BIS_neg", "Patient": 10, "Controller": "PID", "value": 50.35},
      {"panel": "BIS_neg", "Patient": 10, "Controller": "PIDA", "value": 50.193},
      {"panel": "BIS_neg", "Patient": 11, "Controller": "PID", "value": 50.44},
      {"panel": "BIS_neg", "Patient": 11, "Controller": "PIDA", "value": 50.415}, {"panel": "BIS_neg", "Patient": 11, "Controller": "PIDA", "value": 50.43}, {"panel": "BIS_neg", "Patient": 11, "Controller": "PIDA", "value": 50.455},
      {"panel": "BIS_neg", "Patient": 12, "Controller": "PID", "value": 50.985}, {"panel": "BIS_neg", "Patient": 12, "Controller": "PID", "value": 50.422}, {"panel": "BIS_neg", "Patient": 12, "Controller": "PID", "value": 50.437},
      {"panel": "BIS_neg", "Patient": 12, "Controller": "PIDA", "value": 50.366}, {"panel": "BIS_neg", "Patient": 12, "Controller": "PIDA", "value": 50.163},
      {"panel": "BIS_neg", "Patient": 13, "Controller": "PID", "value": 50.782},
      {"panel": "BIS_neg", "Patient": 13, "Controller": "PIDA", "value": 50.372}
    ]
  },
  "concat": [
    {
      "width": 569, "height": 242,
      "title": {"text": "TT\u00a0\u00a0\u00a0\u00a0\u200b", "subtitle": "\u200b\u00a0\u00a0\u00a0\u00a0\u00a0pos", "offset": -19.8},
      "encoding": {
        "x": {"field": "Patient", "type": "ordinal", "title": "Patient", "scale": {"paddingInner": 0.2, "paddingOuter": 0.1}},
        "xOffset": {"field": "Controller", "type": "nominal", "scale": {"paddingInner": 0.02, "paddingOuter": 0}}
      },
      "layer": [
        {"data": {"name": "boxes"}, "transform": [{"filter": "datum.panel === 'TT_pos'"}], "mark": {"type": "rule", "color": "#555555", "strokeWidth": 1.4},
         "encoding": {"y": {"field": "lo", "type": "quantitative", "title": "Time [s]", "scale": {"domain": [8.55, 41.3], "nice": false, "zero": false}, "axis": {"values": [10, 15, 20, 25, 30, 35, 40], "format": "d"}}, "y2": {"field": "hi"}}},
        {"data": {"name": "boxes"}, "transform": [{"filter": "datum.panel === 'TT_pos'"}], "mark": {"type": "tick", "color": "#555555", "thickness": 1.4, "size": 9}, "encoding": {"y": {"field": "lo", "type": "quantitative"}}},
        {"data": {"name": "boxes"}, "transform": [{"filter": "datum.panel === 'TT_pos'"}], "mark": {"type": "tick", "color": "#555555", "thickness": 1.4, "size": 9}, "encoding": {"y": {"field": "hi", "type": "quantitative"}}},
        {"data": {"name": "boxes"}, "transform": [{"filter": "datum.panel === 'TT_pos'"}], "mark": {"type": "bar", "stroke": "#3d3d3d", "strokeWidth": 1.2},
         "encoding": {"y": {"field": "q1", "type": "quantitative"}, "y2": {"field": "q3"},
           "color": {"field": "Controller", "type": "nominal", "scale": {"domain": ["PID", "PIDA"], "range": ["#2787b8", "#f0963e"]}, "legend": {"title": "Controller", "orient": "none", "legendX": 35, "legendY": -14}}}},
        {"data": {"name": "boxes"}, "transform": [{"filter": "datum.panel === 'TT_pos'"}], "mark": {"type": "tick", "color": "#3d3d3d", "thickness": 1.5, "size": 17}, "encoding": {"y": {"field": "med", "type": "quantitative"}}},
        {"data": {"name": "outliers"}, "transform": [{"filter": "datum.panel === 'TT_pos'"}], "mark": {"type": "point", "shape": "M0,-1L0.6,0L0,1L-0.6,0Z", "filled": true, "color": "#3d3d3d", "opacity": 1, "size": 40}, "encoding": {"y": {"field": "value", "type": "quantitative"}}}
      ]
    },
    {
      "width": 567.5, "height": 242,
      "title": {"text": "TT\u00a0\u00a0\u00a0\u00a0\u2009\u200b", "subtitle": "\u200b\u00a0\u00a0\u00a0\u00a0\u00a0neg", "offset": -5.1},
      "encoding": {
        "x": {"field": "Patient", "type": "ordinal", "title": "Patient", "scale": {"paddingInner": 0.2, "paddingOuter": 0.1}},
        "xOffset": {"field": "Controller", "type": "nominal", "scale": {"paddingInner": 0.02, "paddingOuter": 0}}
      },
      "layer": [
        {"data": {"name": "boxes"}, "transform": [{"filter": "datum.panel === 'TT_neg'"}], "mark": {"type": "rule", "color": "#555555", "strokeWidth": 1.4},
         "encoding": {"y": {"field": "lo", "type": "quantitative", "title": "Time [s]", "scale": {"domain": [37.55, 103.35], "nice": false, "zero": false}, "axis": {"values": [40, 50, 60, 70, 80, 90, 100], "format": "d"}}, "y2": {"field": "hi"}}},
        {"data": {"name": "boxes"}, "transform": [{"filter": "datum.panel === 'TT_neg'"}], "mark": {"type": "tick", "color": "#555555", "thickness": 1.4, "size": 9}, "encoding": {"y": {"field": "lo", "type": "quantitative"}}},
        {"data": {"name": "boxes"}, "transform": [{"filter": "datum.panel === 'TT_neg'"}], "mark": {"type": "tick", "color": "#555555", "thickness": 1.4, "size": 9}, "encoding": {"y": {"field": "hi", "type": "quantitative"}}},
        {"data": {"name": "boxes"}, "transform": [{"filter": "datum.panel === 'TT_neg'"}], "mark": {"type": "bar", "stroke": "#3d3d3d", "strokeWidth": 1.2},
         "encoding": {"y": {"field": "q1", "type": "quantitative"}, "y2": {"field": "q3"},
           "color": {"field": "Controller", "type": "nominal", "scale": {"domain": ["PID", "PIDA"], "range": ["#2787b8", "#f0963e"]}, "legend": {"title": "Controller", "orient": "none", "legendX": 47, "legendY": 5}}}},
        {"data": {"name": "boxes"}, "transform": [{"filter": "datum.panel === 'TT_neg'"}], "mark": {"type": "tick", "color": "#3d3d3d", "thickness": 1.5, "size": 17}, "encoding": {"y": {"field": "med", "type": "quantitative"}}},
        {"data": {"name": "outliers"}, "transform": [{"filter": "datum.panel === 'TT_neg'"}], "mark": {"type": "point", "shape": "M0,-1L0.6,0L0,1L-0.6,0Z", "filled": true, "color": "#3d3d3d", "opacity": 1, "size": 40}, "encoding": {"y": {"field": "value", "type": "quantitative"}}}
      ]
    },
    {
      "width": 569, "height": 241,
      "title": {"text": "BIS − NADIR\u00a0\u00a0\u00a0\u00a0\u200b", "subtitle": "\u200b\u00a0\u00a0\u00a0\u00a0\u00a0\u00a0\u00a0\u00a0\u00a0\u00a0\u00a0\u00a0\u00a0\u00a0\u00a0\u00a0\u00a0\u00a0\u00a0\u00a0\u00a0\u00a0\u00a0\u00a0\u00a0\u2009pos", "offset": -3.1},
      "encoding": {
        "x": {"field": "Patient", "type": "ordinal", "title": "Patient", "scale": {"paddingInner": 0.2, "paddingOuter": 0.1}},
        "xOffset": {"field": "Controller", "type": "nominal", "scale": {"paddingInner": 0.02, "paddingOuter": 0}}
      },
      "layer": [
        {"data": {"name": "boxes"}, "transform": [{"filter": "datum.panel === 'BIS_pos'"}], "mark": {"type": "rule", "color": "#555555", "strokeWidth": 1.4},
         "encoding": {"y": {"field": "lo", "type": "quantitative", "title": "DoH [BIS]", "scale": {"domain": [45.57, 50.197], "nice": false, "zero": false}, "axis": {"values": [46, 47, 48, 49, 50], "format": "d"}}, "y2": {"field": "hi"}}},
        {"data": {"name": "boxes"}, "transform": [{"filter": "datum.panel === 'BIS_pos'"}], "mark": {"type": "tick", "color": "#555555", "thickness": 1.4, "size": 9}, "encoding": {"y": {"field": "lo", "type": "quantitative"}}},
        {"data": {"name": "boxes"}, "transform": [{"filter": "datum.panel === 'BIS_pos'"}], "mark": {"type": "tick", "color": "#555555", "thickness": 1.4, "size": 9}, "encoding": {"y": {"field": "hi", "type": "quantitative"}}},
        {"data": {"name": "boxes"}, "transform": [{"filter": "datum.panel === 'BIS_pos'"}], "mark": {"type": "bar", "stroke": "#3d3d3d", "strokeWidth": 1.2},
         "encoding": {"y": {"field": "q1", "type": "quantitative"}, "y2": {"field": "q3"},
           "color": {"field": "Controller", "type": "nominal", "scale": {"domain": ["PID", "PIDA"], "range": ["#2787b8", "#f0963e"]}, "legend": {"title": "Controller", "orient": "none", "legendX": 463, "legendY": 157}}}},
        {"data": {"name": "boxes"}, "transform": [{"filter": "datum.panel === 'BIS_pos'"}], "mark": {"type": "tick", "color": "#3d3d3d", "thickness": 1.5, "size": 17}, "encoding": {"y": {"field": "med", "type": "quantitative"}}},
        {"data": {"name": "outliers"}, "transform": [{"filter": "datum.panel === 'BIS_pos'"}], "mark": {"type": "point", "shape": "M0,-1L0.6,0L0,1L-0.6,0Z", "filled": true, "color": "#3d3d3d", "opacity": 1, "size": 40}, "encoding": {"y": {"field": "value", "type": "quantitative"}}}
      ]
    },
    {
      "width": 567.5, "height": 241,
      "title": {"text": "BIS − NADIR\u00a0\u00a0\u00a0\u00a0\u2009\u200b", "subtitle": "\u200b\u00a0\u00a0\u00a0\u00a0\u00a0\u00a0\u00a0\u00a0\u00a0\u00a0\u00a0\u00a0\u00a0\u00a0\u00a0\u00a0\u00a0\u00a0\u00a0\u00a0\u00a0\u00a0\u00a0\u00a0\u00a0\u2009neg", "offset": -34.8},
      "encoding": {
        "x": {"field": "Patient", "type": "ordinal", "title": "Patient", "scale": {"paddingInner": 0.2, "paddingOuter": 0.1}},
        "xOffset": {"field": "Controller", "type": "nominal", "scale": {"paddingInner": 0.02, "paddingOuter": 0}}
      },
      "layer": [
        {"data": {"name": "boxes"}, "transform": [{"filter": "datum.panel === 'BIS_neg'"}], "mark": {"type": "rule", "color": "#555555", "strokeWidth": 1.4},
         "encoding": {"y": {"field": "lo", "type": "quantitative", "title": "DoH [BIS]", "scale": {"domain": [50.013, 51.086], "nice": false, "zero": false}, "axis": {"values": [50.2, 50.4, 50.6, 50.8, 51.0], "format": ".1f"}}, "y2": {"field": "hi"}}},
        {"data": {"name": "boxes"}, "transform": [{"filter": "datum.panel === 'BIS_neg'"}], "mark": {"type": "tick", "color": "#555555", "thickness": 1.4, "size": 9}, "encoding": {"y": {"field": "lo", "type": "quantitative"}}},
        {"data": {"name": "boxes"}, "transform": [{"filter": "datum.panel === 'BIS_neg'"}], "mark": {"type": "tick", "color": "#555555", "thickness": 1.4, "size": 9}, "encoding": {"y": {"field": "hi", "type": "quantitative"}}},
        {"data": {"name": "boxes"}, "transform": [{"filter": "datum.panel === 'BIS_neg'"}], "mark": {"type": "bar", "stroke": "#3d3d3d", "strokeWidth": 1.2},
         "encoding": {"y": {"field": "q1", "type": "quantitative"}, "y2": {"field": "q3"},
           "color": {"field": "Controller", "type": "nominal", "scale": {"domain": ["PID", "PIDA"], "range": ["#2787b8", "#f0963e"]}, "legend": {"title": "Controller", "orient": "none", "legendX": 34, "legendY": -31}}}},
        {"data": {"name": "boxes"}, "transform": [{"filter": "datum.panel === 'BIS_neg'"}], "mark": {"type": "tick", "color": "#3d3d3d", "thickness": 1.5, "size": 17}, "encoding": {"y": {"field": "med", "type": "quantitative"}}},
        {"data": {"name": "outliers"}, "transform": [{"filter": "datum.panel === 'BIS_neg'"}], "mark": {"type": "point", "shape": "M0,-1L0.6,0L0,1L-0.6,0Z", "filled": true, "color": "#3d3d3d", "opacity": 1, "size": 40}, "encoding": {"y": {"field": "value", "type": "quantitative"}}}
      ]
    }
  ]
}
